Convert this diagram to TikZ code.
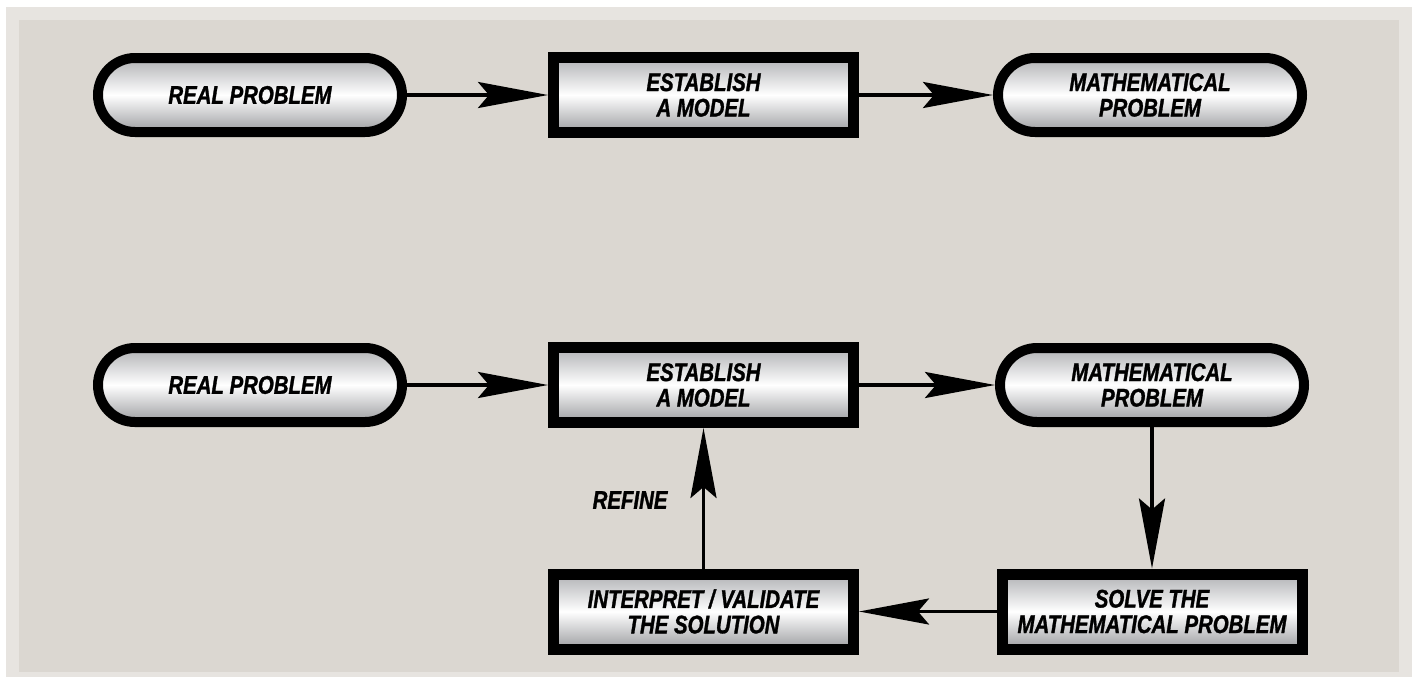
\documentclass[tikz,border=0pt]{standalone}
\usepackage{fontspec}
\newfontfamily\lblfont{Liberation Sans}[FakeStretch=0.8, BoldItalicFeatures={FakeBold=1.2}]
\usetikzlibrary{arrows.meta}
\definecolor{panel}{HTML}{DBD7D1}
\definecolor{framec}{HTML}{E7E4E0}
\definecolor{mtop}{HTML}{B0B1B4}
\definecolor{mbot}{HTML}{9C9DA0}
\begin{document}
\begin{tikzpicture}[x=1pt,y=-1pt,
  lbl/.style={font=\lblfont\fontsize{25.5}{25.5}\selectfont\bfseries\itshape, align=center, text=black},
  boxnode/.style={lbl, draw=black, line width=11pt, minimum width=300pt, minimum height=75pt, inner sep=0pt, top color=mtop, bottom color=mbot, middle color=white},
  termnode/.style={boxnode, line width=10pt, minimum width=304pt, minimum height=74pt, rounded corners=37pt},
  conn/.style={line width=3.5pt, -{Stealth[length=70pt,width=26pt,inset=11pt]}}]
\useasboundingbox (0,0) rectangle (1416,678);
\fill[white] (0,0) rectangle (1416,678);
\fill[framec] (6,7) rectangle (1412,677);
\fill[panel] (19,20) rectangle (1399,672);
% row 1
\node[termnode] (real1) at (250,95) {REAL PROBLEM};
\node[boxnode] (est1) at (703.5,95) {ESTABLISH\\A MODEL};
\node[termnode] (math1) at (1150,95) {MATHEMATICAL\\PROBLEM};
% row 2
\node[termnode] (real2) at (250,385) {REAL PROBLEM};
\node[boxnode] (est2) at (703.5,385) {ESTABLISH\\A MODEL};
\node[termnode] (math2) at (1152,385) {MATHEMATICAL\\PROBLEM};
% row 3
\node[boxnode] (interp) at (703.5,611.5) {INTERPRET / VALIDATE\\THE SOLUTION};
\node[boxnode] (solve) at (1152,611.5) {SOLVE THE\\MATHEMATICAL PROBLEM};
% connectors
\draw[conn] (real1.east) -- (est1.west);
\draw[conn] (est1.east) -- (math1.west);
\draw[conn] (real2.east) -- (est2.west);
\draw[conn] (est2.east) -- (math2.west);
\draw[conn] (math2.south) -- (solve.north);
\draw[conn] (solve.west) -- (interp.east);
\draw[conn] (interp.north) -- (est2.south);
\node[lbl, anchor=east] (refine) at (671,500) {REFINE};
\end{tikzpicture}
\end{document}
